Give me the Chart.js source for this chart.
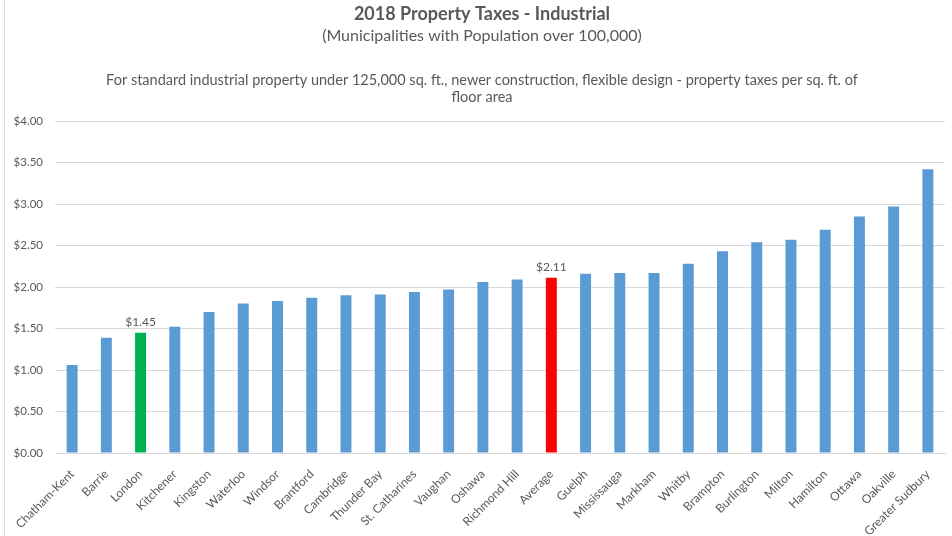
<!DOCTYPE html>
<html>
<head>
<meta charset="utf-8">
<script src="https://cdn.jsdelivr.net/npm/chart.js@4/dist/chart.umd.min.js"></script>
<style>
html,body{margin:0;padding:0;background:#fff;}
#wrap{position:relative;width:952px;height:536px;}
</style>
</head>
<body>
<div id="wrap"><canvas id="c" width="952" height="536"></canvas></div>
<script>
const categories = ["Chatham-Kent","Barrie","London","Kitchener","Kingston","Waterloo","Windsor","Brantford","Cambridge","Thunder Bay","St. Catharines","Vaughan","Oshawa","Richmond Hill","Average","Guelph","Mississauga","Markham","Whitby","Brampton","Burlington","Milton","Hamilton","Ottawa","Oakville","Greater Sudbury"];
const taxes = [1.06,1.39,1.45,1.52,1.70,1.80,1.83,1.87,1.90,1.91,1.94,1.97,2.06,2.09,2.11,2.16,2.17,2.17,2.28,2.43,2.54,2.57,2.69,2.85,2.97,3.42];
const highlighted = {"London":"#00B050","Average":"#FF0000"};
const labelledBars = ["London","Average"];
const yTicks = [0,0.5,1,1.5,2,2.5,3,3.5,4];
const titleText = "2018 Property Taxes - Industrial";
const subtitleText = "(Municipalities with Population over 100,000)";
const noteLines = ["For standard industrial property under 125,000 sq. ft., newer construction, flexible design - property taxes per sq. ft. of","floor area"];

const FONT = "Lato, 'Open Sans', sans-serif";
const GREY = "#595959";

const barColors = categories.map(c => highlighted[c] || "#5B9BD5");

const headerPlugin = {
  id: 'header',
  beforeDraw(chart){
    const ctx = chart.ctx;
    ctx.save();
    ctx.textAlign = 'center';
    ctx.textBaseline = 'middle';
    const cx = 482;
    ctx.fillStyle = GREY;
    ctx.font = "bold 18px " + FONT;
    ctx.fillText(titleText, cx, 14);
    ctx.font = "16px " + FONT;
    ctx.fillText(subtitleText, cx, 36);
    ctx.font = "14.5px " + FONT;
    ctx.fillText(noteLines[0], cx, 80);
    ctx.fillText(noteLines[1], cx, 97);
    ctx.strokeStyle = "#d9d9d9";
    ctx.lineWidth = 1;
    ctx.beginPath();
    ctx.moveTo(4.5, 0);
    ctx.lineTo(4.5, 536);
    ctx.stroke();
    ctx.restore();
  },
  afterDatasetsDraw(chart){
    const ctx = chart.ctx;
    const meta = chart.getDatasetMeta(0);
    ctx.save();
    ctx.fillStyle = GREY;
    ctx.font = "12px " + FONT;
    ctx.textAlign = 'center';
    ctx.textBaseline = 'bottom';
    labelledBars.forEach(name => {
      const i = categories.indexOf(name);
      const el = meta.data[i];
      ctx.fillText("$" + taxes[i].toFixed(2), el.x, el.y - 5);
    });
    ctx.restore();
  }
};

new Chart(document.getElementById('c'), {
  type: 'bar',
  data: {
    labels: categories,
    datasets: [{
      data: taxes,
      backgroundColor: barColors,
      borderWidth: 0,
      categoryPercentage: 1.0,
      barPercentage: 0.32
    }]
  },
  options: {
    responsive: false,
    animation: false,
    devicePixelRatio: 1,
    layout: { padding: { top: 121, right: 7, left: 0, bottom: 0 } },
    plugins: {
      legend: { display: false },
      tooltip: { enabled: false }
    },
    scales: {
      x: {
        grid: { display: false },
        border: { display: true, color: "#d9d9d9" },
        ticks: {
          color: GREY,
          font: { family: FONT, size: 12 },
          minRotation: 45,
          maxRotation: 45,
          autoSkip: false,
          padding: 6
        },
        afterFit(scale){ scale.height = 83; }
      },
      y: {
        min: 0,
        max: 4,
        grid: { color: "#d9d9d9", drawTicks: false },
        border: { display: false },
        afterBuildTicks(scale){ scale.ticks = yTicks.map(v => ({value: v})); },
        ticks: {
          color: GREY,
          font: { family: FONT, size: 11.5 },
          padding: 12,
          callback: v => "$" + Number(v).toFixed(2)
        },
        afterFit(scale){ scale.width = 55; }
      }
    }
  },
  plugins: [headerPlugin]
});
</script>
</body>
</html>
